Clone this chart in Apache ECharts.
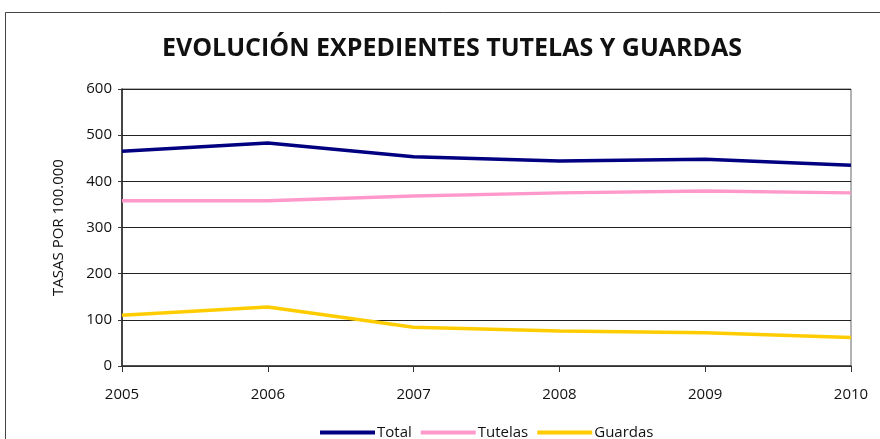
<!DOCTYPE html>
<html>
<head>
<meta charset="utf-8">
<script src="https://cdn.jsdelivr.net/npm/echarts@6/dist/echarts.min.js"></script>
<style>html,body{margin:0;padding:0;background:#fff}#c{width:880px;height:439px}</style>
</head>
<body>
<div id="c"></div>
<script>
const years = ['2005','2006','2007','2008','2009','2010'];
const total = [465, 483, 453, 444, 448, 435];
const tutelas = [358, 358, 368, 375, 379, 375];
const guardas = [110, 128, 84, 76, 72, 62];
const yTicks = [0, 100, 200, 300, 400, 500, 600];

const chart = echarts.init(document.getElementById('c'), null, {renderer: 'canvas'});
const FONT = '"Open Sans", "DejaVu Sans", sans-serif';
function mk(name, data, color) {
  return {name: name, type: 'line', data: data, symbol: 'none', smooth: false,
    lineStyle: {color: color, width: 3.5}, itemStyle: {color: color}};
}
chart.setOption({
  animation: false,
  graphic: [{type: 'rect', shape: {x: 5.5, y: 12.5, width: 900, height: 500},
    style: {fill: 'none', stroke: '#444', lineWidth: 1}, silent: true}],
  title: {text: 'EVOLUCIÓN EXPEDIENTES TUTELAS Y GUARDAS', left: 447, top: 31, textAlign: 'center',
    textStyle: {fontFamily: FONT, fontSize: 25, fontWeight: 'bold', color: '#111'}},
  grid: {left: 122, right: 29, top: 89, bottom: 73, show: true, borderColor: '#666', borderWidth: 1},
  legend: {top: 420, left: 315, itemWidth: 55, itemHeight: 4, itemGap: 9,
    icon: 'rect',
    textStyle: {fontFamily: FONT, fontSize: 15, color: '#111', padding: [0,0,0,-3]},
    data: ['Total', 'Tutelas', 'Guardas']},
  xAxis: {type: 'category', data: years, boundaryGap: false,
    axisLine: {lineStyle: {color: '#333', width: 1.5}},
    axisTick: {show: true, inside: false, length: 6, lineStyle: {color: '#333'}},
    axisLabel: {fontFamily: FONT, fontSize: 15, color: '#111', margin: 21}},
  yAxis: {type: 'value', min: yTicks[0], max: yTicks[yTicks.length-1], interval: 100,
    name: 'TASAS POR 100.000', nameLocation: 'middle', nameGap: 56, nameRotate: 90,
    nameTextStyle: {fontFamily: FONT, fontSize: 15, color: '#111'},
    axisLine: {show: true, lineStyle: {color: '#222', width: 1.5}},
    axisTick: {show: true, length: 4, lineStyle: {color: '#333'}},
    axisLabel: {fontFamily: FONT, fontSize: 15, color: '#111', margin: 10},
    splitLine: {lineStyle: {color: '#222', width: 1.2}}},
  series: [mk('Total', total, '#000080'), mk('Tutelas', tutelas, '#ff99cc'), mk('Guardas', guardas, '#ffcc00')]
});
</script>
</body>
</html>
